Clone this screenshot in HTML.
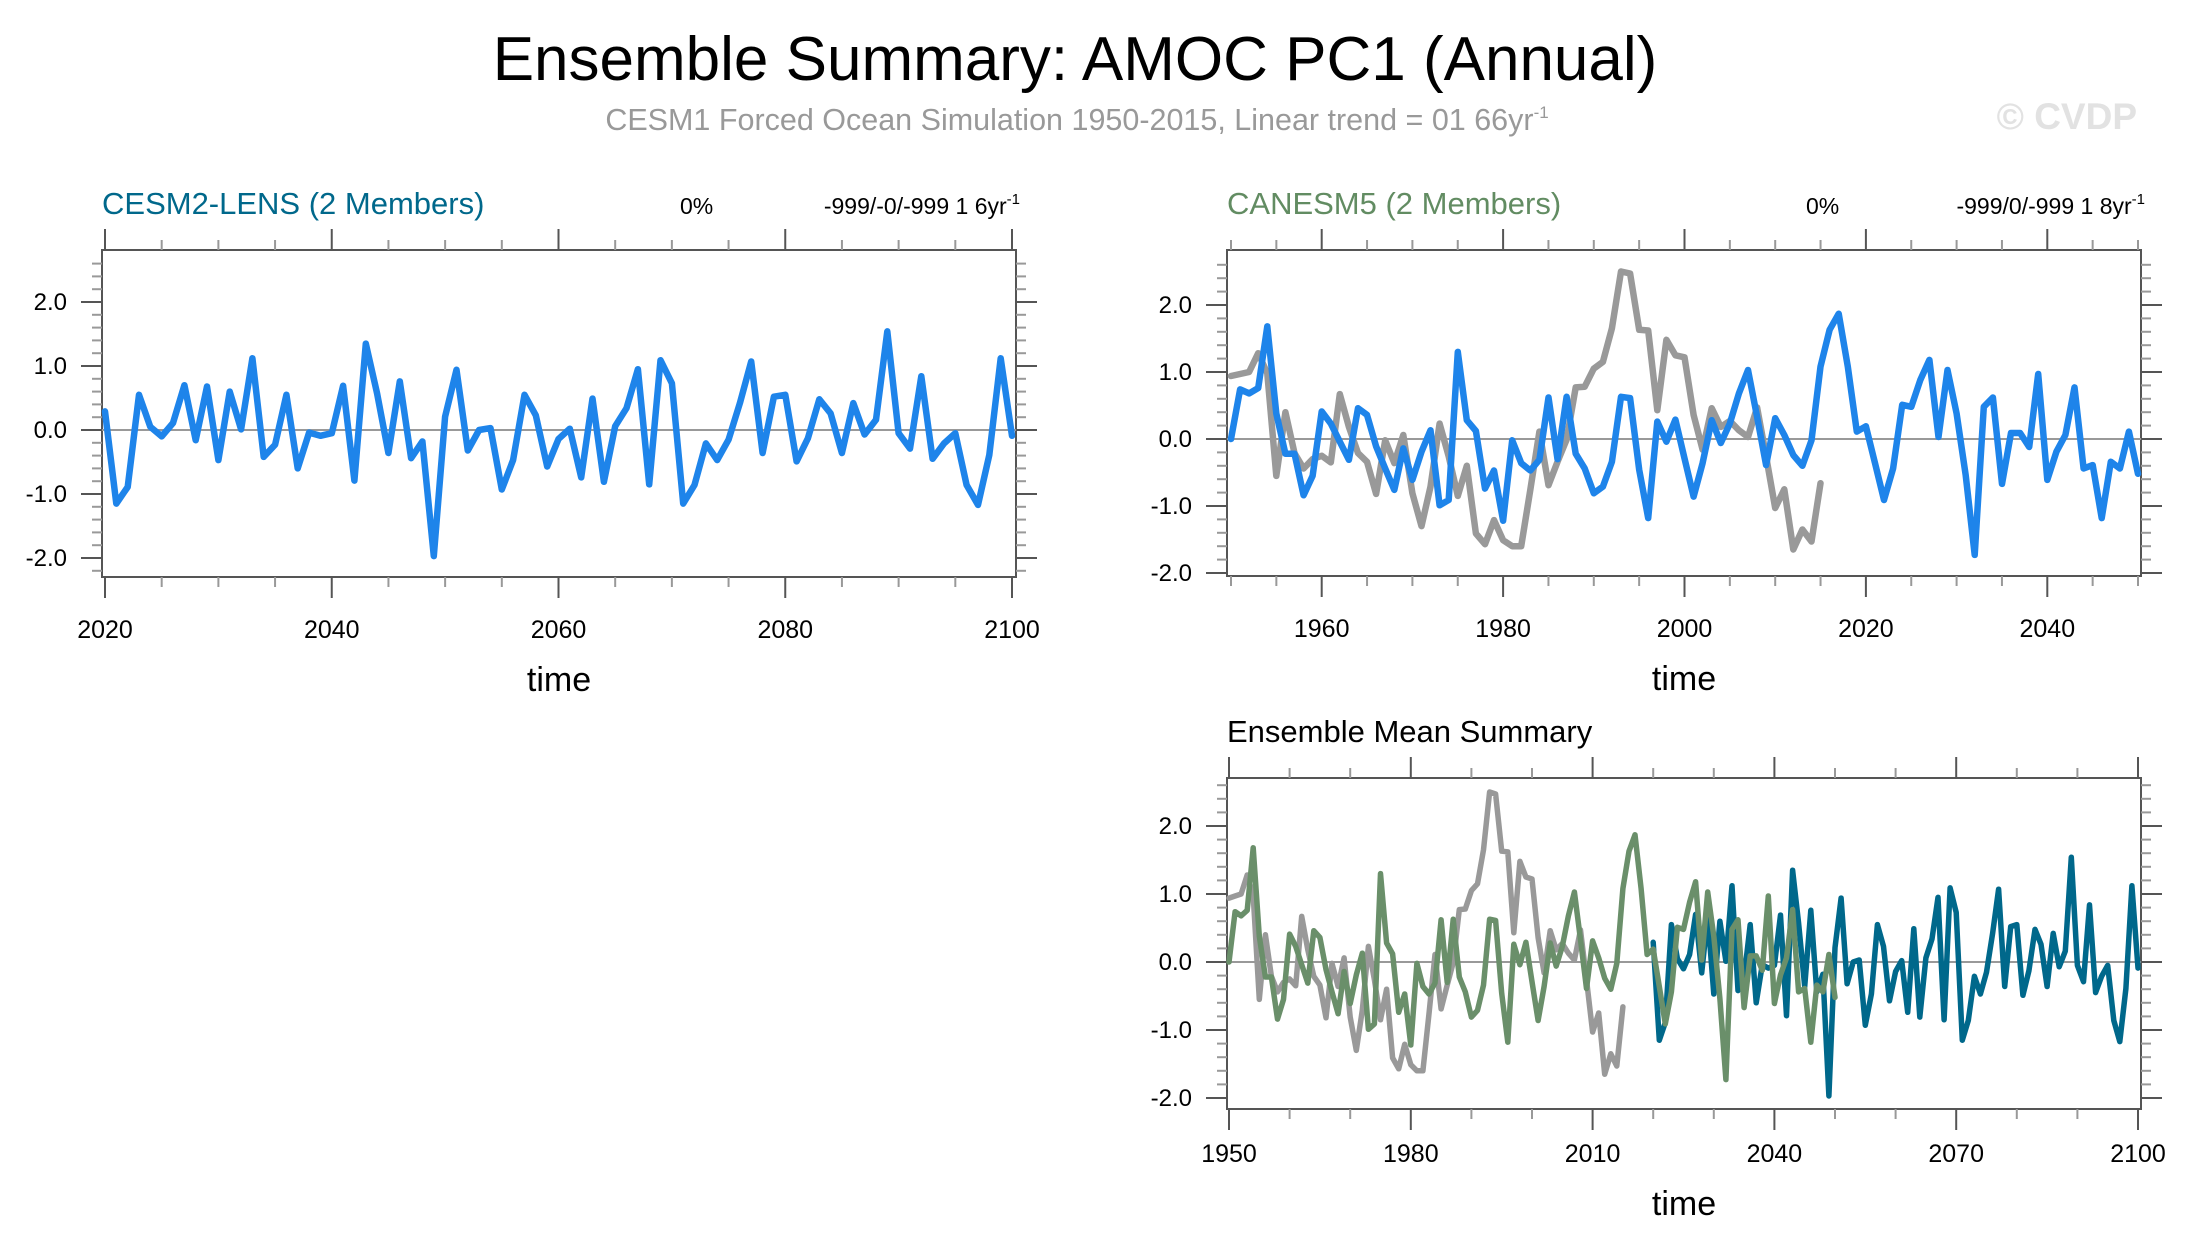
<!DOCTYPE html>
<html><head><meta charset="utf-8"><style>
html,body{margin:0;padding:0;background:#fff;}
svg{display:block;font-family:"Liberation Sans",Arial,sans-serif;}
</style></head><body>
<svg id="chart" width="2186" height="1250" viewBox="0 0 2186 1250" xmlns="http://www.w3.org/2000/svg">
<text x="1075" y="80" font-size="62" text-anchor="middle" fill="#000">Ensemble Summary: AMOC PC1 (Annual)</text>
<text x="1077" y="130" font-size="30.5" text-anchor="middle" fill="#999">CESM1 Forced Ocean Simulation 1950-2015, Linear trend = 01 66yr<tspan dy="-12" font-size="17">-1</tspan></text>
<text x="2137" y="129" font-size="37" font-weight="bold" text-anchor="end" fill="#e2e2e2">© CVDP</text>
</svg>
<script>
// ---- data ----
const cesmYears0 = 2020;
const cesmValues = [0.29,-1.15,-0.89,0.55,0.05,-0.1,0.11,0.70,-0.16,0.68,-0.47,0.60,0.01,1.12,-0.42,-0.23,0.55,-0.60,-0.04,-0.09,-0.05,0.69,-0.79,1.35,0.57,-0.36,0.76,-0.44,-0.18,-1.97,0.21,0.94,-0.32,0.0,0.03,-0.93,-0.47,0.55,0.23,-0.57,-0.14,0.02,-0.74,0.49,-0.81,0.06,0.34,0.95,-0.85,1.09,0.73,-1.15,-0.86,-0.21,-0.47,-0.15,0.42,1.07,-0.36,0.52,0.55,-0.49,-0.13,0.48,0.26,-0.36,0.42,-0.07,0.16,1.54,-0.05,-0.29,0.84,-0.45,-0.21,-0.05,-0.86,-1.17,-0.39,1.12,-0.09];
const canYears0 = 1950;
const canValues = [0.0,0.74,0.68,0.76,1.68,0.38,-0.22,-0.22,-0.84,-0.55,0.41,0.23,-0.04,-0.31,0.46,0.36,-0.11,-0.44,-0.76,-0.14,-0.61,-0.19,0.13,-0.99,-0.91,1.30,0.28,0.12,-0.74,-0.47,-1.22,-0.02,-0.36,-0.47,-0.31,0.62,-0.30,0.63,-0.22,-0.44,-0.81,-0.71,-0.34,0.63,0.61,-0.46,-1.18,0.26,-0.04,0.29,-0.29,-0.86,-0.36,0.28,-0.06,0.23,0.68,1.03,0.33,-0.39,0.31,0.06,-0.24,-0.40,-0.02,1.08,1.63,1.87,1.08,0.11,0.19,-0.36,-0.91,-0.44,0.51,0.48,0.88,1.18,0.03,1.03,0.38,-0.54,-1.73,0.48,0.62,-0.67,0.09,0.09,-0.12,0.97,-0.61,-0.19,0.06,0.77,-0.44,-0.39,-1.18,-0.34,-0.44,0.11,-0.52];
const obsYears0 = 1950;
const obsValues = [0.94,0.97,1.0,1.28,0.98,-0.55,0.40,-0.21,-0.44,-0.30,-0.25,-0.35,0.67,0.18,-0.21,-0.34,-0.82,-0.02,-0.36,0.06,-0.81,-1.30,-0.71,0.23,-0.26,-0.85,-0.40,-1.41,-1.57,-1.21,-1.51,-1.60,-1.60,-0.76,0.11,-0.69,-0.34,-0.01,0.77,0.78,1.05,1.15,1.65,2.50,2.47,1.63,1.62,0.43,1.48,1.25,1.22,0.36,-0.16,0.46,0.18,0.27,0.13,0.03,0.47,-0.26,-1.03,-0.75,-1.65,-1.35,-1.53,-0.66];
const yTickLabels = ["2.0","1.0","0.0","-1.0","-2.0"];
const yTickValues = [2,1,0,-1,-2];

const svg = document.getElementById('chart');
const NS = 'http://www.w3.org/2000/svg';
function mk(tag, attrs, parent){const e=document.createElementNS(NS,tag);for(const k in attrs)e.setAttribute(k,attrs[k]);(parent||svg).appendChild(e);return e;}

function panel(cfg){
  const g = mk('g',{});
  
  
  const xs = v => cfg.x0 + (v - cfg.xmin) * (cfg.x1 - cfg.x0) / (cfg.xmax - cfg.xmin);
  const ys = v => cfg.yZero - v * cfg.yUnit;
  const box = mk('rect',{x:cfg.left,y:cfg.top,width:cfg.right-cfg.left,height:cfg.bottom-cfg.top,fill:'none',stroke:'#555','stroke-width':2},g);
  
  
  for(let k=-30;k<=30;k++){
    const v=k*0.2; const y=ys(v);
    if(y<cfg.top+2||y>cfg.bottom-2) continue;
    const major = Math.abs(k%5)===0;
    const L = major?21:10;
    mk('line',{x1:cfg.left-L,x2:cfg.left,y1:y,y2:y,stroke:major?'#555':'#999','stroke-width':2},g);
    mk('line',{x1:cfg.right,x2:cfg.right+L,y1:y,y2:y,stroke:major?'#555':'#999','stroke-width':2},g);
  }
  for(let t=cfg.xmin;t<=cfg.xmax;t+=cfg.minor){
    const x=xs(t); const major=((t-cfg.majorBase)%cfg.major)===0;
    const L=major?21:10;
    mk('line',{x1:x,x2:x,y1:cfg.bottom,y2:cfg.bottom+L,stroke:major?'#555':'#999','stroke-width':2},g);
    mk('line',{x1:x,x2:x,y1:cfg.top-L,y2:cfg.top,stroke:major?'#555':'#999','stroke-width':2},g);
    if(major){
      const tl=mk('text',{x:x,y:cfg.bottom+cfg.lblOff,'font-size':25,'text-anchor':'middle',fill:'#000'},g);
      tl.textContent=String(t);
      
      
    }
  }
  yTickValues.forEach((v,i)=>{
    const tl=mk('text',{x:cfg.left-35,y:ys(v)+8,'font-size':24,'text-anchor':'end',fill:'#000'},g);
    tl.textContent=yTickLabels[i];
    
    
  });
  const z=mk('line',{x1:cfg.left,x2:cfg.right,y1:ys(0),y2:ys(0),stroke:'#999','stroke-width':2},g);
  
  
  cfg.series.forEach(s=>{
    const pts=s.values.map((v,i)=>xs(s.start+i).toFixed(1)+','+ys(v).toFixed(1)).join(' ');
    const p=mk('polyline',{points:pts,fill:'none',stroke:s.color,'stroke-width':cfg.lw,'stroke-linejoin':'round','stroke-linecap':'round'},g);
    
    
  });
  const xl=mk('text',{x:(cfg.left+cfg.right)/2,y:cfg.bottom+cfg.lblOff+53,'font-size':34,'text-anchor':'middle',fill:'#000'},g);
  xl.textContent='time';
  
  
  const t=mk('text',{x:cfg.left,y:cfg.top-36,'font-size':31,fill:cfg.titleColor},g);
  t.textContent=cfg.title;
  
  
  if(cfg.pct){
    const pc=mk('text',{x:cfg.pctX,y:cfg.top-36,'font-size':23,fill:'#000'},g);
    pc.textContent=cfg.pct;
    
    
    const tr=mk('text',{x:cfg.right+4,y:cfg.top-36,'font-size':23,'text-anchor':'end',fill:'#000'},g);
    tr.textContent=cfg.trend;
    const sup=mk('tspan',{dy:-10,'font-size':15},tr); sup.textContent='-1';
    
    
  }
}

panel({name:'cesm2-lens-panel',left:102,right:1016,top:250,bottom:577,x0:105,x1:1012,xmin:2020,xmax:2100,major:20,majorBase:2020,minor:5,lblOff:61,yZero:430,yUnit:64,lw:6.5,
  title:'CESM2-LENS (2 Members)',titleColor:'#00688b',pct:'0%',pctX:680,trend:'-999/-0/-999 1 6yr',
  series:[{name:'cesm2-lens-line',values:cesmValues,start:cesmYears0,color:'#1e84ea'}]});

panel({name:'canesm5-panel',left:1227,right:2141,top:250,bottom:576,x0:1231,x1:2138,xmin:1950,xmax:2050,major:20,majorBase:1960,minor:5,lblOff:61,yZero:439,yUnit:67,lw:6.5,
  title:'CANESM5 (2 Members)',titleColor:'#628c62',pct:'0%',pctX:1806,trend:'-999/0/-999 1 8yr',
  series:[{name:'observed-line',values:obsValues,start:obsYears0,color:'#999'},
          {name:'canesm5-line',values:canValues,start:canYears0,color:'#1e84ea'}]});

panel({name:'ensemble-mean-panel',left:1227,right:2141,top:778,bottom:1109,x0:1229,x1:2138,xmin:1950,xmax:2100,major:30,majorBase:1950,minor:10,lblOff:53,yZero:962,yUnit:68,lw:5.5,
  title:'Ensemble Mean Summary',titleColor:'#000',
  series:[{name:'observed-mean-line',values:obsValues,start:obsYears0,color:'#999'},
          {name:'cesm2-lens-mean-line',values:cesmValues,start:cesmYears0,color:'#00688b'},
          {name:'canesm5-mean-line',values:canValues,start:canYears0,color:'#6a8f6a'}]});
</script>
</body></html>
